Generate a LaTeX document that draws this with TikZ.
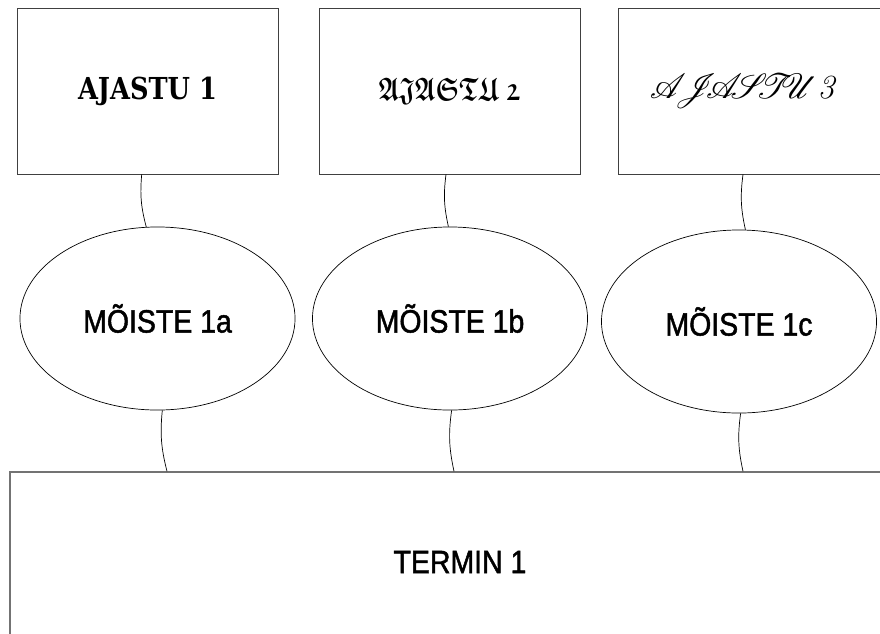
\documentclass[tikz,border=0pt]{standalone}
\usepackage{amsmath}
\usepackage{amssymb}
\usepackage{mathrsfs}
\usepackage{fontspec}
\usetikzlibrary{shapes.geometric}
\newfontfamily\labelfont[FakeStretch=0.88, FakeBold=1.4]{Liberation Sans}
\newfontfamily\erafont[FakeStretch=0.85]{DejaVu Serif}

\begin{document}
\begin{tikzpicture}[x=0.025cm, y=-0.025cm,
    erabox/.style={draw=black!75, line width=0.6pt, minimum width=6.525cm, minimum height=4.15cm, inner sep=0pt},
    moiste/.style={draw, ellipse, line width=0.5pt, minimum width=6.875cm, minimum height=4.575cm, inner sep=0pt, font=\labelfont\fontsize{23}{27}\selectfont},
    link/.style={line width=0.5pt, bend right=10}]
  \useasboundingbox (0,0) rectangle (880,633);
  \clip (0,0) rectangle (880,633);

  % Era boxes
  \node[erabox] (ajastu1) at (147.5,91) {\erafont\bfseries\fontsize{21.5}{26}\selectfont AJASTU 1};
  \node[erabox] (ajastu2) at (449.5,91) {\scalebox{0.82}[1.1]{\fontsize{21}{25}\selectfont$\boldsymbol{\mathfrak{AJASTU}\ \mathfrak{2}}$}};
  \node[erabox, minimum width=6.6cm] (ajastu3) at (750,91) {\hspace*{-10pt}\fontsize{24}{28}\selectfont$\mathscr{A}\!\!\mathscr{J}\!\!\mathscr{A}\!\!\mathscr{S}\!\!\mathscr{T}\!\!\mathscr{U}$\textit{3}};

  % Concepts
  \node[moiste] (moiste1) at (157.5,318.5) {MÕISTE 1a};
  \node[moiste] (moiste2) at (450,318.5) {MÕISTE 1b};
  \node[moiste] (moiste3) at (739,321.5) {MÕISTE 1c};

  % Term
  \node[draw=black!55, line width=1pt, minimum width=22.5cm, minimum height=4.5cm, inner sep=0pt,
        font=\labelfont\fontsize{23}{27}\selectfont] (termin) at (460,562) {TERMIN 1};

  % Era to concept
  \foreach \i/\s/\a in {1/-5.8/97, 2/-3.5/91, 3/-7/86} {
    \draw[link] ([xshift=\s*0.025cm]ajastu\i.south) to (moiste\i.\a);
  }

  % Concept to term
  \foreach \i/\a/\s in {1/273/-293, 2/271/-6, 3/271/283} {
    \draw[link] (moiste\i.\a) to ([xshift=\s*0.025cm]termin.north);
  }
\end{tikzpicture}
\end{document}
